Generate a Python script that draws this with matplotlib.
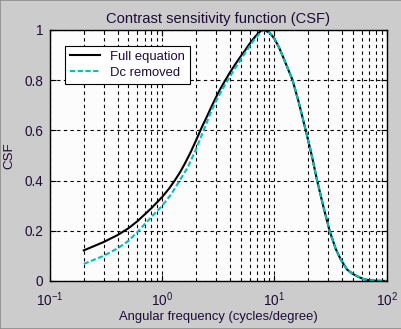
import matplotlib
matplotlib.use("Agg")
import matplotlib.pyplot as plt
from matplotlib.patches import Rectangle
from matplotlib.ticker import LogLocator, NullFormatter

plt.rcParams['font.family'] = ['Liberation Sans', 'DejaVu Sans']
plt.rcParams['mathtext.fontset'] = 'custom'
plt.rcParams['mathtext.rm'] = 'Liberation Sans'
plt.rcParams['mathtext.it'] = 'Liberation Sans'

# values
freq_full = [0.2, 0.3, 0.4, 0.5, 0.6, 0.8, 1.0, 1.15, 1.3, 1.45, 1.6, 1.8, 2.0,
             2.25, 2.5, 2.75, 3.0, 3.3, 3.65, 4.0, 4.5, 5.0, 5.5, 6.0, 6.5, 7.0,
             7.5, 8.0, 9.0, 10.0, 11.0, 12.0, 14.5, 16.5, 19.0, 21.5, 24.0, 27.5,
             31.0, 35.0, 39.0, 44.5, 50.0, 55.0, 62.0, 70.0, 80.0, 100.0]
csf_full = [0.122, 0.155, 0.183, 0.21, 0.238, 0.29, 0.335, 0.368, 0.402, 0.435,
            0.47, 0.515, 0.56, 0.612, 0.655, 0.695, 0.73, 0.766, 0.80, 0.83, 0.865,
            0.895, 0.92, 0.945, 0.965, 0.982, 0.995, 1.0, 0.99, 0.965, 0.93, 0.89,
            0.80, 0.71, 0.60, 0.50, 0.40, 0.29, 0.20, 0.13, 0.085, 0.045, 0.028,
            0.018, 0.008, 0.003, 0.001, 0.0]

freq_dc = [0.2, 0.3, 0.4, 0.5, 0.6, 0.8, 1.0, 1.2, 1.43, 1.7, 2.0, 2.34, 2.7,
           3.0, 3.4, 3.84, 4.5, 5.5, 6.5, 7.5, 8.0, 9.0, 10.0, 11.0, 12.0, 14.5,
           16.5, 19.0, 21.5, 24.0, 27.5, 31.0, 35.0, 39.0, 44.5, 50.0, 55.0, 62.0,
           70.0, 80.0, 100.0]
csf_dc = [0.068, 0.10, 0.13, 0.16, 0.195, 0.255, 0.30, 0.345, 0.40, 0.455, 0.525,
          0.60, 0.67, 0.715, 0.76, 0.80, 0.85, 0.91, 0.957, 0.99, 1.0, 0.99, 0.965,
          0.93, 0.89, 0.80, 0.71, 0.60, 0.50, 0.40, 0.29, 0.20, 0.13, 0.085, 0.045,
          0.028, 0.018, 0.008, 0.003, 0.001, 0.0]

yticks = [0, 0.2, 0.4, 0.6, 0.8, 1]
ytick_labels = ['0', '0.2', '0.4', '0.6', '0.8', '1']

txt = '#1e0c36'
bg = '#cccccc'

fig = plt.figure(figsize=(4.02, 3.29), dpi=100, facecolor=bg)
fig.patches.append(Rectangle((0, 0), 1, 1, transform=fig.transFigure,
                             fill=False, edgecolor='#8c8c8c', linewidth=1.2))
ax = fig.add_axes([0.1244, 0.1459, 0.8375, 0.763])
ax.set_facecolor('#fcfcfc')

ax.plot(freq_full, csf_full, color='black', linewidth=1.5, label='Full equation')
ax.plot(freq_dc, csf_dc, color='#00bfbf', linewidth=1.5, linestyle=(0, (2.5, 1.2)),
        label='Dc removed')

ax.set_xscale('log')
ax.set_xlim(0.1, 100)
ax.set_ylim(0, 1)
ax.set_yticks(yticks)
ax.set_yticklabels(ytick_labels)
ax.xaxis.set_minor_locator(LogLocator(base=10, subs=range(2, 10)))
ax.xaxis.set_minor_formatter(NullFormatter())

ax.grid(True, which='both', axis='x', color='black', linestyle=(0, (3, 3)), linewidth=0.8)
ax.grid(True, which='major', axis='y', color='black', linestyle=(0, (3, 3)), linewidth=0.8)
ax.tick_params(which='both', direction='in', colors='black', labelcolor=txt,
               labelsize=9.8, top=True, right=True)
ax.tick_params(which='major', length=4, pad=5)
ax.tick_params(axis='x', which='major', pad=7)
ax.tick_params(which='minor', length=2)
for s in ax.spines.values():
    s.set_linewidth(1.0)

ax.set_title('Contrast sensitivity function (CSF)', fontsize=10.6, color=txt, pad=5)
ax.set_xlabel('Angular frequency (cycles/degree)', fontsize=9.4, color=txt, labelpad=1)
ax.set_ylabel('CSF', fontsize=9.6, color=txt, labelpad=6)

leg = ax.legend(loc='upper left', bbox_to_anchor=(0.045, 0.935), fontsize=9.4,
                frameon=True, fancybox=False, framealpha=1, edgecolor='black',
                handlelength=2.3, handletextpad=0.8, borderpad=0.35, labelspacing=0.3,
                borderaxespad=0)
leg.get_frame().set_linewidth(0.8)
for t in leg.get_texts():
    t.set_color(txt)

fig.savefig('out.png', dpi=100, facecolor=bg)
